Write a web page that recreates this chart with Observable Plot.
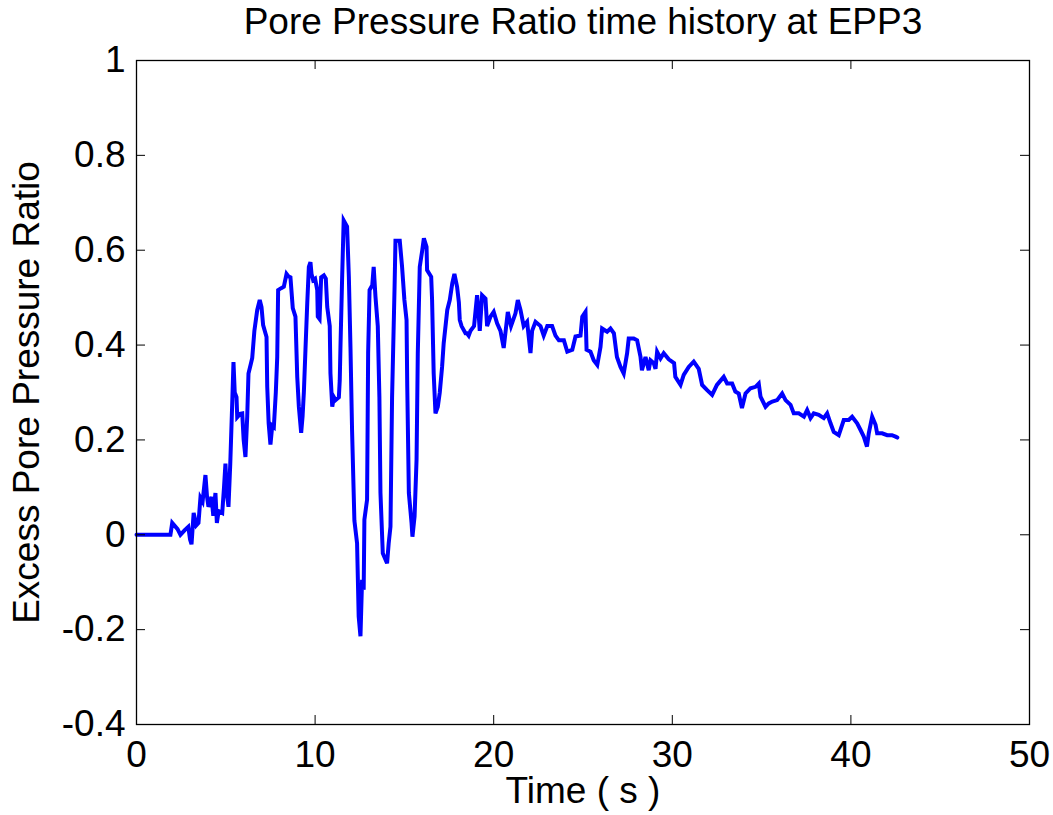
<!DOCTYPE html>
<html>
<head>
<meta charset="utf-8">
<script src="https://cdn.jsdelivr.net/npm/d3@7"></script>
<script src="https://cdn.jsdelivr.net/npm/@observablehq/plot@0.6"></script>
<style>
  html, body { margin: 0; padding: 0; background: #fff; }
  svg { display: block; }
</style>
</head>
<body>
<div id="chart"></div>
<script>
const titleText = "Pore Pressure Ratio time history at EPP3";
const xLabel = "Time ( s )";
const yLabel = "Excess Pore Pressure Ratio";
const xTicks = [0, 10, 20, 30, 40, 50];
const yTicks = [-0.4, -0.2, 0, 0.2, 0.4, 0.6, 0.8, 1];

const timeS = [
  0, 1.9, 2.0, 2.3, 2.46, 2.7, 2.9, 3.0, 3.08, 3.2, 3.35, 3.47, 3.58, 3.7, 3.86, 3.95, 4.03, 4.2, 4.3, 4.42,
  4.5, 4.6, 4.8, 4.9, 4.98, 5.05, 5.15, 5.25, 5.36, 5.43, 5.5, 5.6, 5.64, 5.8, 5.92, 6.0, 6.1, 6.2, 6.27, 6.4,
  6.48, 6.6, 6.76, 6.9, 7.0, 7.09, 7.28, 7.32, 7.4, 7.5, 7.6, 7.69, 7.8, 7.88, 7.93, 8.1, 8.25, 8.4, 8.5, 8.62,
  8.75, 8.9, 9.0, 9.09, 9.22, 9.3, 9.37, 9.46, 9.56, 9.65, 9.74, 9.8, 9.89, 10.0, 10.12, 10.15, 10.25, 10.34, 10.49, 10.6,
  10.68, 10.82, 10.86, 10.96, 11.05, 11.14, 11.33, 11.38, 11.42, 11.51, 11.6, 11.79, 11.89, 11.98, 12.07, 12.2, 12.35, 12.44, 12.54, 12.63,
  12.72, 12.76, 12.91, 12.97, 13.05, 13.2, 13.28, 13.38, 13.51, 13.6, 13.66, 13.79, 14.03, 14.12, 14.22, 14.31, 14.45, 14.5, 14.74, 14.87,
  15.0, 15.12, 15.16, 15.25, 15.4, 15.45, 15.57, 15.68, 15.75, 15.86, 16.0, 16.09, 16.24, 16.27, 16.5, 16.55, 16.64, 16.74, 16.87, 16.98,
  17.11, 17.2, 17.4, 17.54, 17.68, 17.8, 17.95, 18.05, 18.1, 18.2, 18.42, 18.5, 18.6, 18.7, 18.9, 19.07, 19.15, 19.22, 19.35, 19.54,
  19.63, 19.82, 20.0, 20.19, 20.38, 20.56, 20.79, 20.97, 21.22, 21.35, 21.5, 21.68, 21.87, 22.06, 22.15, 22.34, 22.62, 22.8, 23.0, 23.27,
  23.46, 23.65, 23.93, 24.12, 24.4, 24.58, 24.86, 24.96, 25.14, 25.2, 25.42, 25.6, 25.8, 25.98, 26.07, 26.35, 26.54, 26.73, 26.9, 27.1,
  27.28, 27.47, 27.56, 27.84, 28.03, 28.22, 28.3, 28.5, 28.68, 28.78, 28.96, 29.06, 29.15, 29.34, 29.52, 29.8, 30.1, 30.17, 30.46, 30.64,
  30.92, 31.2, 31.48, 31.67, 31.95, 32.23, 32.5, 32.88, 33.07, 33.35, 33.53, 33.72, 33.9, 34.1, 34.38, 34.66, 34.84, 34.94, 35.22, 35.4,
  35.6, 35.87, 36.15, 36.34, 36.62, 36.8, 37.08, 37.37, 37.55, 37.74, 37.92, 38.2, 38.48, 38.67, 38.86, 39.04, 39.32, 39.6, 39.88, 40.07,
  40.35, 40.54, 40.72, 40.9, 41.0, 41.19, 41.38, 41.47, 41.75, 42.03, 42.3, 42.5, 42.6
];

const poreRatio = [
  0, 0, 0.025, 0.012, 0, 0.01, 0.017, -0.01, -0.02, 0.046, 0.02, 0.025, 0.078, 0.07, 0.126, 0.08, 0.059, 0.08, 0.04, 0.088,
  0.025, 0.05, 0.046, 0.1, 0.15, 0.09, 0.059, 0.15, 0.278, 0.364, 0.3, 0.29, 0.248, 0.255, 0.256, 0.2, 0.164, 0.25, 0.34, 0.36,
  0.373, 0.43, 0.474, 0.495, 0.48, 0.442, 0.417, 0.312, 0.235, 0.19, 0.23, 0.227, 0.3, 0.375, 0.516, 0.52, 0.523, 0.55, 0.545, 0.543,
  0.478, 0.46, 0.333, 0.27, 0.215, 0.25, 0.3, 0.39, 0.488, 0.565, 0.575, 0.55, 0.537, 0.54, 0.516, 0.46, 0.455, 0.543, 0.547, 0.54,
  0.48, 0.44, 0.34, 0.27, 0.29, 0.284, 0.29, 0.326, 0.396, 0.537, 0.663, 0.65, 0.544, 0.396, 0.22, 0.03, -0.018, -0.172, -0.214, -0.095,
  -0.116, 0.032, 0.074, 0.383, 0.516, 0.526, 0.565, 0.502, 0.44, 0.29, 0.088, -0.039, -0.06, -0.018, 0.017, 0.29, 0.523, 0.62, 0.62, 0.565,
  0.495, 0.453, 0.312, 0.088, 0.025, -0.004, 0.039, 0.158, 0.383, 0.565, 0.6, 0.625, 0.607, 0.558, 0.544, 0.495, 0.34, 0.256, 0.27, 0.3,
  0.354, 0.404, 0.474, 0.495, 0.53, 0.55, 0.523, 0.49, 0.453, 0.44, 0.425, 0.425, 0.42, 0.43, 0.44, 0.505, 0.47, 0.43, 0.505, 0.498,
  0.44, 0.46, 0.47, 0.446, 0.43, 0.394, 0.47, 0.44, 0.467, 0.495, 0.474, 0.44, 0.449, 0.383, 0.43, 0.449, 0.44, 0.42, 0.44, 0.44,
  0.42, 0.41, 0.41, 0.386, 0.39, 0.418, 0.42, 0.46, 0.47, 0.39, 0.386, 0.368, 0.358, 0.396, 0.435, 0.428, 0.435, 0.425, 0.375, 0.354,
  0.34, 0.383, 0.414, 0.414, 0.41, 0.375, 0.347, 0.375, 0.347, 0.368, 0.362, 0.35, 0.386, 0.372, 0.383, 0.37, 0.362, 0.333, 0.316, 0.337,
  0.354, 0.365, 0.35, 0.316, 0.305, 0.295, 0.316, 0.333, 0.319, 0.319, 0.302, 0.298, 0.267, 0.298, 0.309, 0.312, 0.319, 0.291, 0.27, 0.277,
  0.281, 0.284, 0.298, 0.284, 0.274, 0.256, 0.256, 0.249, 0.263, 0.246, 0.256, 0.253, 0.246, 0.256, 0.235, 0.217, 0.21, 0.242, 0.242, 0.249,
  0.235, 0.221, 0.207, 0.186, 0.214, 0.249, 0.232, 0.214, 0.214, 0.21, 0.21, 0.207, 0.205
];

const data = timeS.map((t, i) => ({t, r: poreRatio[i]}));

const W = 1053, H = 815;
const mL = 136, mR = 24, mT = 60, mB = 91;
const plotW = W - mL - mR, plotH = H - mT - mB;
const tick = 9;
const font = "Liberation Sans, Arial, Helvetica, sans-serif";
const fs = 37;

const chart = Plot.plot({
  width: W,
  height: H,
  marginLeft: mL,
  marginRight: mR,
  marginTop: mT,
  marginBottom: mB,
  style: {fontFamily: font, fontSize: fs + "px", color: "#000", background: "#fff"},
  x: {domain: [0, 50]},
  y: {domain: [-0.4, 1]},
  marks: [
    Plot.line(data, {x: "t", y: "r", stroke: "#0000ff", strokeWidth: 4, strokeLinejoin: "miter", strokeMiterlimit: 4}),
    Plot.ruleX(xTicks, {stroke: "#000", insetTop: plotH - tick}),
    Plot.ruleX(xTicks, {stroke: "#000", insetBottom: plotH - tick}),
    Plot.ruleY(yTicks, {stroke: "#000", insetRight: plotW - tick}),
    Plot.ruleY(yTicks, {stroke: "#000", insetLeft: plotW - tick}),
    Plot.frame({stroke: "#000", strokeWidth: 1.3}),
    Plot.axisX({ticks: xTicks, tickSize: 0, tickPadding: 16, fontSize: fs, label: null, tickFormat: d => String(d)}),
    Plot.axisY({ticks: yTicks, tickSize: 0, tickPadding: 11, fontSize: fs, label: null, tickFormat: d => String(+d.toFixed(1))}),
    Plot.text([titleText], {frameAnchor: "top", dy: -38, lineAnchor: "middle", textAnchor: "middle", fontSize: fs, fill: "#000"}),
    Plot.text([xLabel], {frameAnchor: "bottom", dy: 67, lineAnchor: "middle", textAnchor: "middle", fontSize: fs, fill: "#000"}),
    Plot.text([yLabel], {frameAnchor: "left", dx: -109, rotate: -90, lineAnchor: "middle", textAnchor: "middle", fontSize: fs, fill: "#000"})
  ]
});
document.getElementById("chart").appendChild(chart);
</script>
</body>
</html>
